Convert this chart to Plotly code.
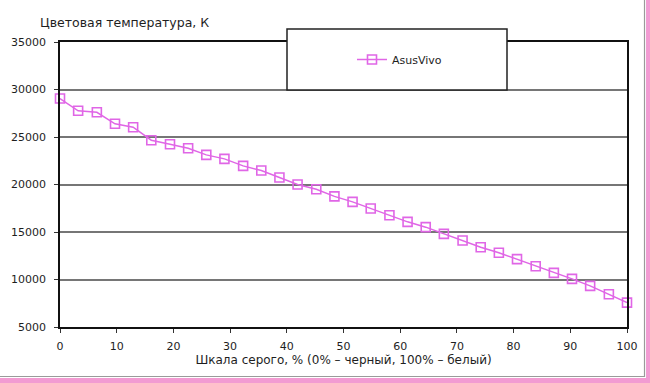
import plotly.graph_objects as go

# Data
gray_pct = [0, 3.2, 6.5, 9.7, 12.9, 16.1, 19.4, 22.6, 25.8, 29.0, 32.3, 35.5,
            38.7, 41.9, 45.2, 48.4, 51.6, 54.8, 58.1, 61.3, 64.5, 67.7, 71.0,
            74.2, 77.4, 80.6, 83.9, 87.1, 90.3, 93.5, 96.8, 100]
color_temp = [29050, 27760, 27600, 26390, 26030, 24660, 24240, 23820, 23120,
              22700, 21960, 21470, 20730, 20000, 19500, 18750, 18170, 17470,
              16770, 16070, 15510, 14800, 14100, 13400, 12810, 12140, 11400,
              10700, 10070, 9330, 8450, 7570]
series_name = "AsusVivo"
x_ticks = [0, 10, 20, 30, 40, 50, 60, 70, 80, 90, 100]
y_ticks = [5000, 10000, 15000, 20000, 25000, 30000, 35000]

W, H = 650, 383
L, R, T, B = 60, 627, 42, 327

def px(x):
    return (x - L) / (R - L)

def py(y):
    return (B - y) / (B - T)

font = "DejaVu Sans, Liberation Sans, Arial, sans-serif"
mag = "#E066E6"
txt = "#1e1e1e"

fig = go.Figure()
fig.add_trace(go.Scatter(
    x=gray_pct, y=color_temp, mode="lines+markers", name=series_name,
    line=dict(color=mag, width=1.5),
    marker=dict(symbol="square-open", size=9, color=mag, line=dict(width=1.6, color=mag)),
    showlegend=True, cliponaxis=False,
))

shapes = [
    # legend box
    dict(type="rect", xref="paper", yref="paper", x0=px(287), x1=px(507),
         y0=py(90), y1=py(29), fillcolor="white", line=dict(color="#222", width=1.5),
         layer="above"),
    # outer frame lines and pink border
    dict(type="rect", xref="paper", yref="paper", x0=px(-5), x1=px(655),
         y0=py(383 + 5), y1=py(378), fillcolor="#F29BD2", line=dict(width=0), layer="above"),
    dict(type="rect", xref="paper", yref="paper", x0=px(646), x1=px(655),
         y0=py(390), y1=py(-5), fillcolor="#F29BD2", line=dict(width=0), layer="above"),
    dict(type="line", xref="paper", yref="paper", x0=px(-5), x1=px(645),
         y0=py(376.5), y1=py(376.5), line=dict(color="#9a9a9a", width=1.2), layer="above"),
    dict(type="line", xref="paper", yref="paper", x0=px(644.5), x1=px(644.5),
         y0=py(377), y1=py(-5), line=dict(color="#9a9a9a", width=1.2), layer="above"),
]

fig.update_layout(
    width=W, height=H,
    margin=dict(l=L, r=W - R, t=T, b=H - B),
    paper_bgcolor="white", plot_bgcolor="white",
    font=dict(family=font, size=11, color=txt),
    shapes=shapes,
    showlegend=True,
    legend=dict(x=px(352), y=py(59.5), xanchor="left", yanchor="middle",
                bgcolor="rgba(0,0,0,0)", borderwidth=0,
                font=dict(family=font, size=11, color=txt)),
    annotations=[dict(text="Цветовая температура, К", xref="paper", yref="paper",
                      x=px(38), y=py(22), xanchor="left", yanchor="middle",
                      showarrow=False, font=dict(family=font, size=12.5, color=txt))],
    xaxis=dict(range=[0, 100], tickvals=x_ticks, ticktext=[str(v) for v in x_ticks],
               showgrid=False, zeroline=False, showline=True, mirror=True,
               linecolor="#111", linewidth=1.5, ticks="outside", ticklen=4,
               tickcolor="#333", tickwidth=1, ticklabelstandoff=4,
               title=dict(text="Шкала серого, % (0% – черный, 100% – белый)",
                          font=dict(family=font, size=12, color=txt), standoff=4)),
    yaxis=dict(range=[5000, 35000], tickvals=y_ticks, ticktext=[str(v) for v in y_ticks],
               showgrid=True, gridcolor="#767676", gridwidth=2, zeroline=False,
               showline=True, mirror=True, linecolor="#111", linewidth=1.5,
               ticks="outside", ticklen=4, tickcolor="#333", tickwidth=1,
               ticklabelstandoff=6),
)

fig.write_html("out.html", config={"displayModeBar": False},
               post_script="document.body.style.margin='0';document.body.style.overflow='hidden';")
